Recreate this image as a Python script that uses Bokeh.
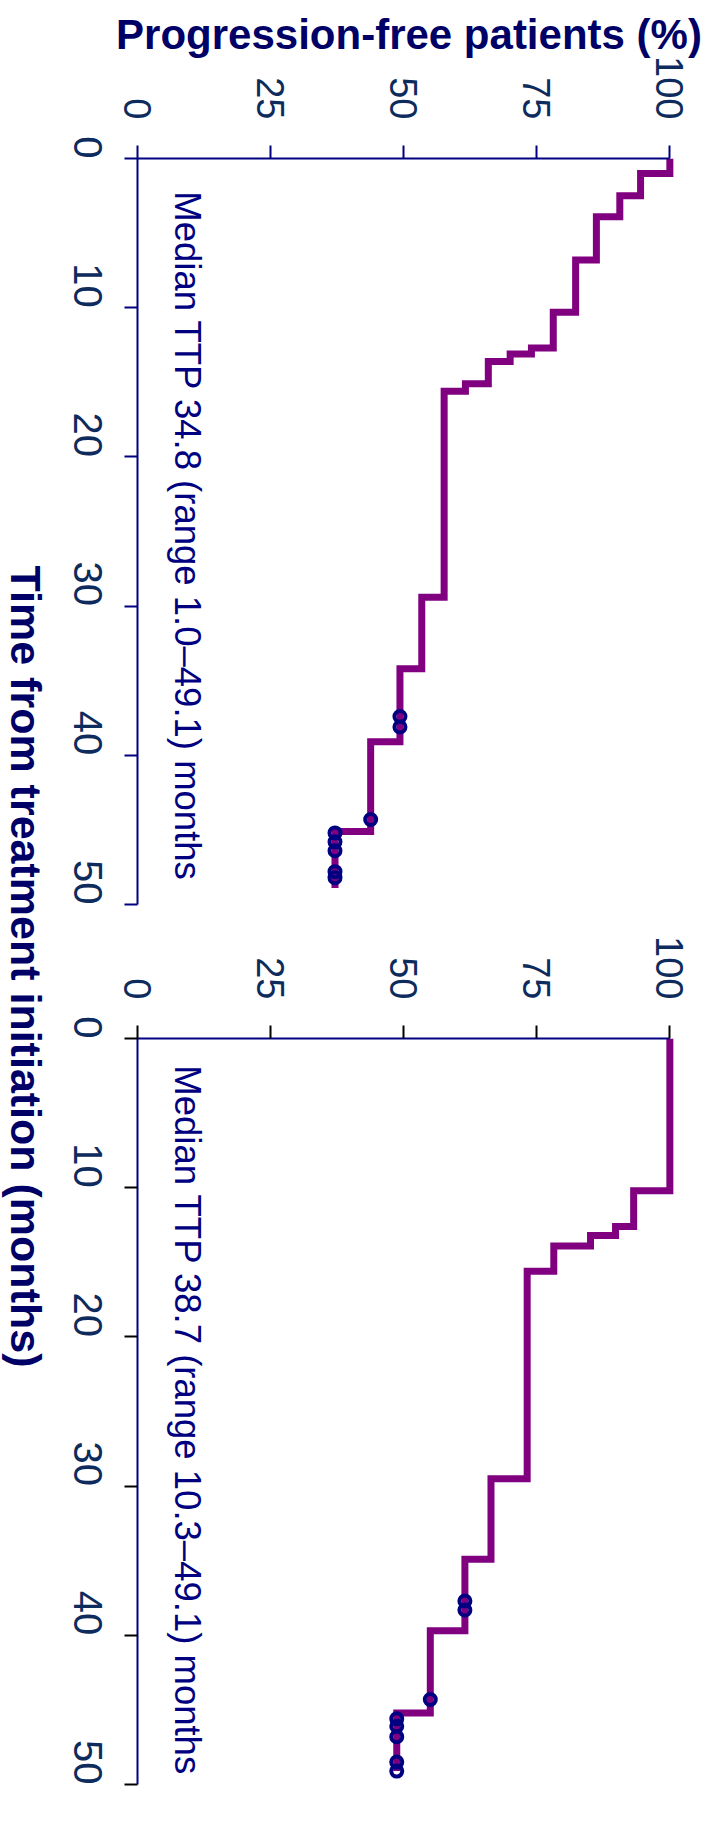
import math
from bokeh.plotting import figure
from bokeh.models import Range1d, FixedTicker
from bokeh.layouts import row, column
from bokeh.embed import file_html
from bokeh.resources import INLINE
from bokeh.core.properties import value

# ---------------- data ----------------
pct_ticks = [0, 25, 50, 75, 100]
time_ticks = [0, 10, 20, 30, 40, 50]

top_times = [0, 1.0, 2.5, 3.9, 6.8, 10.3, 12.7, 13.1, 13.6, 15.1, 15.6, 29.4, 34.2, 39.1, 45.1]
top_surv = [100, 94.5, 90.6, 86.2, 82.3, 78.1, 74.0, 70.0, 65.9, 61.6, 57.6, 53.4, 49.3, 43.8, 37.1]
top_end = 48.9
top_cens_t = [37.4, 38.1, 44.3, 45.2, 45.8, 46.4, 47.8, 48.2]
top_cens_s = [49.3, 49.3, 43.8, 37.1, 37.1, 37.1, 37.1, 37.1]
top_note = "Median TTP 34.8 (range 1.0\u201349.1) months"

bot_times = [0, 10.2, 12.6, 13.2, 13.9, 15.6, 29.5, 34.9, 39.7, 45.2]
bot_surv = [100, 93.2, 89.8, 85.1, 78.2, 73.2, 66.4, 61.5, 55.0, 48.7]
bot_end = 49.1
bot_cens_t = [37.7, 38.3, 44.3, 45.6, 46.1, 46.8, 48.5, 49.1]
bot_cens_s = [61.5, 61.5, 55.0, 48.7, 48.7, 48.7, 48.7, 48.7]
bot_note = "Median TTP 38.7 (range 10.3\u201349.1) months"

y_title = "Progression-free patients (%)"
x_title = "Time from treatment initiation (months)"

# ---------------- style ----------------
FONT = "Liberation Sans"
NAVY = "#000080"
TITLE_C = "#000066"
TICK_C = "#0d2b5c"
PURPLE = "#800080"
NOTE_X = 9.4
NOTE_Y_TOP = 2.2
NOTE_Y_BOT = 1.8

LABEL_W = 52
FIG_W = 663
FRAME_H = 746
TOP_BORDER = 158
MID_BORDER = 108
BOTTOM_BORDER = 26


def km_path(times, surv, end):
    xs, ys = [], []
    for i, (t, s) in enumerate(zip(times, surv)):
        t_next = times[i + 1] if i + 1 < len(times) else end
        xs += [s, s]
        ys += [t, t_next]
    return xs, ys


def panel(times, surv, end, ct, cs, note, note_y, top, tick_color):
    bt = TOP_BORDER if top else MID_BORDER
    p = figure(width=FIG_W, height=bt + FRAME_H + BOTTOM_BORDER,
               x_range=Range1d(0, 102), y_range=Range1d(50, 0),
               x_axis_location="above", output_backend="svg",
               toolbar_location=None, min_border_left=85, min_border_right=35,
               min_border_top=bt, min_border_bottom=BOTTOM_BORDER,
               background_fill_color="white", border_fill_color="white")
    p.outline_line_color = None
    p.xgrid.visible = False
    p.ygrid.visible = False

    for ax, ticks, bounds, standoff, fsize in (
            (p.xaxis[0], pct_ticks, (0, 100), 26, "38px"),
            (p.yaxis[0], time_ticks, (0, 50), 37, "40px")):
        ax.ticker = FixedTicker(ticks=ticks)
        ax.bounds = bounds
        ax.major_label_orientation = -math.pi / 2
        ax.axis_line_color = NAVY
        ax.axis_line_width = 2
        ax.major_tick_line_color = tick_color
        ax.major_tick_line_width = 2
        ax.major_tick_out = 13
        ax.major_tick_in = 0
        ax.minor_tick_line_color = None
        ax.major_label_text_font = FONT
        ax.major_label_text_font_size = fsize
        ax.major_label_text_color = TICK_C
        ax.major_label_standoff = standoff

    if top:
        xa = p.xaxis[0]
        xa.axis_label = y_title
        xa.axis_label_text_font = FONT
        xa.axis_label_text_font_style = "bold"
        xa.axis_label_text_font_size = "42px"
        xa.axis_label_text_color = TITLE_C
        xa.axis_label_standoff = -5

    xs, ys = km_path(times, surv, end)
    p.line(xs, ys, line_color=PURPLE, line_width=7, line_join="miter")
    p.scatter(cs, ct, marker="circle", size=11, fill_color=None,
              line_color=NAVY, line_width=4)
    p.text(x=[NOTE_X], y=[note_y], text=[note], angle=-math.pi / 2,
           text_align="left", text_baseline="alphabetic",
           text_font=value(FONT), text_font_size="36.5px", text_color=NAVY)
    return p


p_top = panel(top_times, top_surv, top_end, top_cens_t, top_cens_s,
              top_note, NOTE_Y_TOP, True, NAVY)
p_bot = panel(bot_times, bot_surv, bot_end, bot_cens_t, bot_cens_s,
              bot_note, NOTE_Y_BOT, False, "#000000")

total_h = (TOP_BORDER + FRAME_H + BOTTOM_BORDER) + (MID_BORDER + FRAME_H + BOTTOM_BORDER)
lab = figure(width=LABEL_W, height=total_h, x_range=Range1d(0, LABEL_W),
             y_range=Range1d(total_h, 0), output_backend="svg",
             toolbar_location=None, min_border=0)
lab.axis.visible = False
lab.xgrid.visible = False
lab.ygrid.visible = False
lab.outline_line_color = None
lab.text(x=[25], y=[966], text=[x_title], angle=-math.pi / 2,
         text_align="center", text_baseline="middle",
         text_font=value(FONT), text_font_style="bold",
         text_font_size="43px", text_color=TITLE_C)

layout = row(lab, column(p_top, p_bot))
open("out.html", "w").write(file_html(layout, INLINE))
